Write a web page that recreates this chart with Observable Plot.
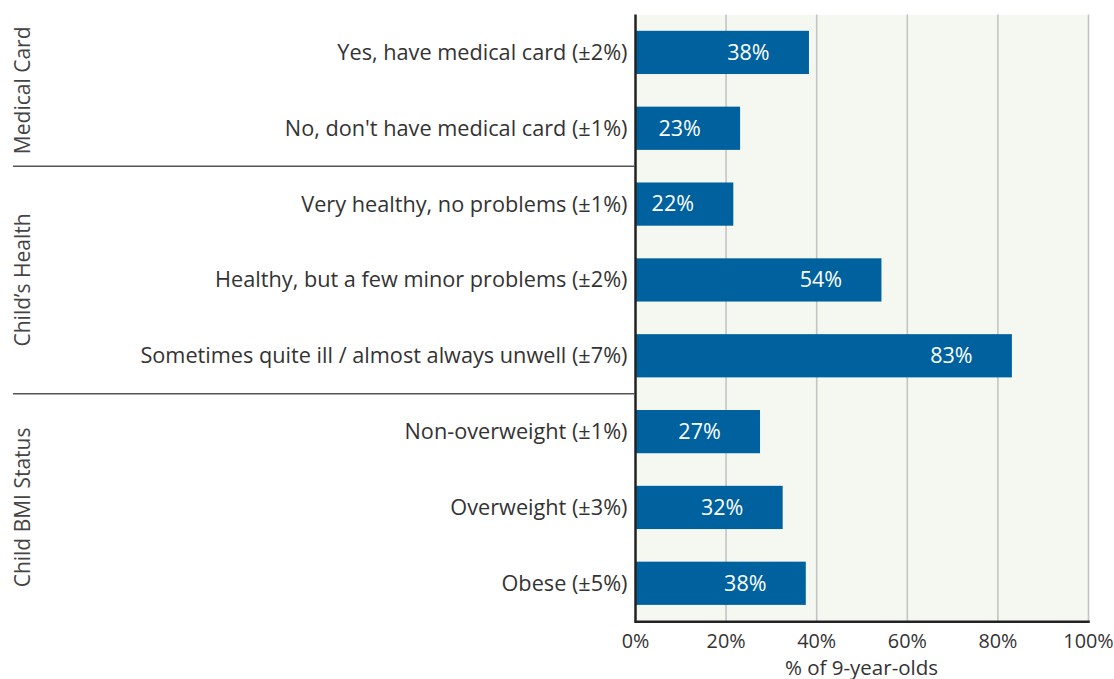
<!DOCTYPE html>
<html>
<head>
<meta charset="utf-8">
<script src="https://cdn.jsdelivr.net/npm/d3@7"></script>
<script src="https://cdn.jsdelivr.net/npm/@observablehq/plot@0.6"></script>
<style>
  html, body { margin: 0; padding: 0; background: #fff; }
  #chart { width: 1114px; height: 679px; }
  svg { font-family: "Open Sans", sans-serif; }
</style>
</head>
<body>
<div id="chart"></div>
<script>
const categories = [
  "Yes, have medical card (±2%)",
  "No, don't have medical card (±1%)",
  "Very healthy, no problems (±1%)",
  "Healthy, but a few minor problems (±2%)",
  "Sometimes quite ill / almost always unwell (±7%)",
  "Non-overweight (±1%)",
  "Overweight (±3%)",
  "Obese (±5%)"
];
const values = [38.4, 23.2, 21.7, 54.4, 83.2, 27.6, 32.6, 37.7];
const valueLabels = ["38%", "23%", "22%", "54%", "83%", "27%", "32%", "38%"];
const groups = ["Medical Card", "Child’s Health", "Child BMI Status"];
const groupOf = [0, 0, 1, 1, 1, 2, 2, 2];
const xTicks = [0, 20, 40, 60, 80, 100];

const data = categories.map((c, i) => ({label: c, value: values[i], text: valueLabels[i], group: groups[groupOf[i]]}));

const W = 1114, H = 679;
const chart = Plot.plot({
  width: W,
  height: H,
  marginLeft: 635,
  marginRight: 26,
  marginTop: 14.5,
  marginBottom: 57.8,
  style: {fontFamily: "'Open Sans', sans-serif", background: "#fff", overflow: "visible"},
  x: {domain: [0, 100], ticks: xTicks},
  y: {domain: categories, paddingInner: 0.43, paddingOuter: 0.215, align: 0.5, round: false},
  marks: [
    Plot.frame({fill: "#f5f8f1", stroke: null}),
    Plot.ruleX(xTicks.filter(d => d > 0), {stroke: "#c4c4c4", strokeWidth: 1.6}),
    Plot.barX(data, {x: "value", y: "label", fill: "#00619f"}),
    Plot.text(data, {x: "value", y: "label", text: "text", dx: -61, fill: "#fff", fontSize: 21.5}),
    Plot.axisY({tickSize: 0, tickPadding: 8, fontSize: 21.7, color: "#333", label: null}),
    Plot.axisX({tickSize: 0, tickPadding: 12.5, fontSize: 19.8, color: "#333",
      tickFormat: d => d + "%", label: null}),
    Plot.ruleX([0], {stroke: "#222", strokeWidth: 2.5}),
    Plot.frame({anchor: "bottom", stroke: "#222", strokeWidth: 2.5})
  ]
});
document.getElementById("chart").appendChild(chart);

// Group separators, rotated group labels and the x-axis title, positioned from the scales
const ys = chart.scale("y");
const xs = chart.scale("x");
const svg = d3.select(chart);
const bw = ys.bandwidth;
const step = ys.step;
const ml = 635;
const g = svg.append("g");
g.append("text")
  .attr("x", (xs.range[0] + xs.range[1]) / 2)
  .attr("y", 675)
  .attr("text-anchor", "middle")
  .attr("fill", "#333")
  .attr("font-size", 20.5)
  .text("% of 9-year-olds");
groups.forEach((name, gi) => {
  const idx = groupOf.map((v, i) => v === gi ? i : -1).filter(i => i >= 0);
  const first = ys.apply(categories[idx[0]]);
  const last = ys.apply(categories[idx[idx.length - 1]]);
  const top = gi === 0 ? ys.range[0] : first - (step - bw) / 2;
  const bot = gi === groups.length - 1 ? ys.range[1] : last + bw + (step - bw) / 2;
  const mid = (top + bot) / 2;
  g.append("text")
    .attr("transform", `translate(30,${mid}) rotate(-90)`)
    .attr("text-anchor", "middle")
    .attr("fill", "#444")
    .attr("font-size", 21)
    .text(name);
  if (gi < groups.length - 1) {
    g.append("line")
      .attr("x1", 13).attr("x2", ml)
      .attr("y1", bot).attr("y2", bot)
      .attr("stroke", "#555").attr("stroke-width", 1.5);
  }
});
</script>
</body>
</html>
